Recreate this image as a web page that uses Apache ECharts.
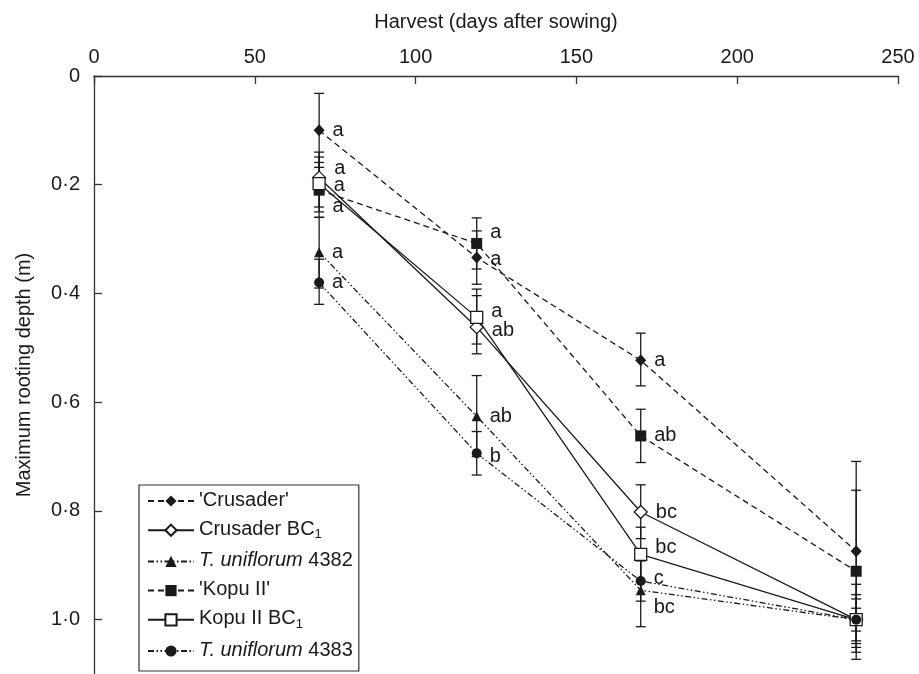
<!DOCTYPE html>
<html>
<head>
<meta charset="utf-8">
<script src="https://cdn.jsdelivr.net/npm/echarts@6/dist/echarts.min.js"></script>
<style>html,body{margin:0;padding:0;background:#fff}#c{width:919px;height:674px}</style>
</head>
<body>
<div id="c"></div>
<script>
// ---- data ----
const days = [70, 119, 170, 237];
const xTicks = [0, 50, 100, 150, 200, 250];
const yTicks = [0, 0.2, 0.4, 0.6, 0.8, 1.0];

const crusader      = [0.100, 0.334, 0.523, 0.874];
const crusaderLow   = [0.032, 0.285, 0.473, 0.709];
const crusaderHigh  = [0.168, 0.383, 0.570, 1.039];
const crusaderLetters = ['a', 'a', 'a', ''];

const crusaderBC1      = [0.187, 0.462, 0.802, 1.000];
const crusaderBC1Low   = [0.140, 0.404, 0.752, 0.935];
const crusaderBC1High  = [0.241, 0.511, 0.851, 1.073];
const crusaderBC1Letters = ['a', 'ab', 'bc', ''];

const uni4382      = [0.324, 0.626, 0.946, 1.000];
const uni4382Low   = [0.260, 0.551, 0.879, 0.954];
const uni4382High  = [0.390, 0.700, 1.013, 1.051];
const uni4382Letters = ['a', 'ab', 'bc', ''];

const kopu      = [0.210, 0.308, 0.662, 0.911];
const kopuLow   = [0.159, 0.261, 0.613, 0.762];
const kopuHigh  = [0.260, 0.355, 0.711, 1.060];
const kopuLetters = ['a', 'a', 'ab', ''];

const kopuBC1      = [0.198, 0.444, 0.880, 1.000];
const kopuBC1Low   = [0.149, 0.392, 0.830, 0.962];
const kopuBC1High  = [0.250, 0.493, 0.930, 1.044];
const kopuBC1Letters = ['a', 'a', 'bc', ''];

const uni4383      = [0.380, 0.694, 0.929, 1.000];
const uni4383Low   = [0.337, 0.654, 0.892, 0.979];
const uni4383High  = [0.420, 0.734, 0.966, 1.021];
const uni4383Letters = ['a', 'b', 'c', ''];

// ---- styles ----
const INK = '#1a1a1a';
const FONT = 'Liberation Sans, Arial, sans-serif';
const DASH = [6, 4];
const DASHDOT = [6, 2.5, 1.5, 2.5, 1.5, 2.5];

const seriesDefs = [
  {name: "'Crusader'", vals: crusader, lo: crusaderLow, hi: crusaderHigh, letters: crusaderLetters,
   symbol: 'diamond', size: [11, 12], fill: INK, dash: DASH, dy: [0, 2, 0, 0]},
  {name: 'Crusader BC1', vals: crusaderBC1, lo: crusaderBC1Low, hi: crusaderBC1High, letters: crusaderBC1Letters,
   symbol: 'diamond', size: [13, 13], fill: '#fff', dash: 'solid', dy: [-9, 3, 0, 0]},
  {name: 'T. uniflorum 4382', vals: uni4382, lo: uni4382Low, hi: uni4382High, letters: uni4382Letters,
   symbol: 'triangle', size: [10, 10], fill: INK, dash: DASHDOT, dy: [0, 0, 17, 0]},
  {name: "'Kopu II'", vals: kopu, lo: kopuLow, hi: kopuHigh, letters: kopuLetters,
   symbol: 'rect', size: [11, 11], fill: INK, dash: DASH, dy: [16, -11, 0, 0]},
  {name: 'Kopu II BC1', vals: kopuBC1, lo: kopuBC1Low, hi: kopuBC1High, letters: kopuBC1Letters,
   symbol: 'rect', size: [12, 12], fill: '#fff', dash: 'solid', dy: [2, -6, -7, 0]},
  {name: 'T. uniflorum 4383', vals: uni4383, lo: uni4383Low, hi: uni4383High, letters: uni4383Letters,
   symbol: 'circle', size: [10, 10], fill: INK, dash: DASHDOT, dy: [0, 3, -3, 0]}
];

const legendText = {
  "'Crusader'": "{n|'Crusader'}",
  'Crusader BC1': '{n|Crusader BC}{s|1}',
  'T. uniflorum 4382': '{i|T. uniflorum}{n| 4382}',
  "'Kopu II'": "{n|'Kopu II'}",
  'Kopu II BC1': '{n|Kopu II BC}{s|1}',
  'T. uniflorum 4383': '{i|T. uniflorum}{n| 4383}'
};

function fmtDepth(v) {
  if (!yTicks.some(t => Math.abs(t - v) < 1e-6)) return '';
  if (Math.abs(v) < 1e-9) return '0';
  return v.toFixed(1).replace('.', '\u00b7');
}

const series = [];
// error bars
const errData = [];
seriesDefs.forEach(s => days.forEach((d, i) => errData.push([d, s.lo[i], s.hi[i]])));
series.push({
  type: 'custom', name: 'err', z: 1, silent: true,
  data: errData,
  encode: {x: 0, y: [1, 2]},
  renderItem: function (params, api) {
    const x = api.value(0);
    const p1 = api.coord([x, api.value(1)]);
    const p2 = api.coord([x, api.value(2)]);
    const hw = 5;
    const st = {stroke: INK, lineWidth: 1.3};
    return {type: 'group', children: [
      {type: 'line', shape: {x1: p1[0], y1: p1[1], x2: p2[0], y2: p2[1]}, style: st},
      {type: 'line', shape: {x1: p1[0] - hw, y1: p1[1], x2: p1[0] + hw, y2: p1[1]}, style: st},
      {type: 'line', shape: {x1: p2[0] - hw, y1: p2[1], x2: p2[0] + hw, y2: p2[1]}, style: st}
    ]};
  }
});

seriesDefs.forEach((s, k) => {
  series.push({
    type: 'line', name: s.name, z: 3 + k,
    symbol: s.symbol, symbolSize: s.size, showAllSymbol: true,
    lineStyle: {color: INK, width: 1.3, type: s.dash},
    itemStyle: {color: s.fill, borderColor: INK, borderWidth: s.fill === '#fff' ? 1.3 : 0},
    emphasis: {disabled: true},
    data: days.map((d, i) => ({
      value: [d, s.vals[i]],
      label: {
        show: !!s.letters[i], formatter: s.letters[i], position: 'right', distance: 8,
        offset: [0, s.dy[i]], color: INK, fontSize: 20, fontFamily: FONT
      }
    }))
  });
});

const chart = echarts.init(document.getElementById('c'), null, {renderer: 'canvas'});
chart.setOption({
  animation: false,
  backgroundColor: '#fff',
  grid: {left: 94, top: 76, width: 804, height: 600.6, containLabel: false},
  xAxis: {
    type: 'value', position: 'top', min: 0, max: 250, interval: 50,
    name: 'Harvest (days after sowing)', nameLocation: 'middle', nameGap: 44,
    nameTextStyle: {color: INK, fontSize: 20, fontFamily: FONT},
    axisLine: {show: true, lineStyle: {color: '#333', width: 1.3}},
    axisTick: {show: true, inside: true, length: 8, lineStyle: {color: '#333', width: 1.3}},
    axisLabel: {color: INK, fontSize: 20, fontFamily: FONT, margin: 9,
      formatter: v => xTicks.includes(v) ? String(v) : ''},
    splitLine: {show: false}
  },
  yAxis: {
    type: 'value', inverse: true, min: 0, max: 1.1, interval: 0.2,
    name: 'Maximum rooting depth (m)', nameLocation: 'middle', nameGap: 60,
    nameTextStyle: {color: INK, fontSize: 20, fontFamily: FONT},
    axisLine: {show: true, lineStyle: {color: '#333', width: 1.3}},
    axisTick: {show: true, inside: true, length: 8, lineStyle: {color: '#333', width: 1.3}},
    axisLabel: {color: INK, fontSize: 20, fontFamily: FONT, margin: 14, formatter: fmtDepth,
      showMaxLabel: false},
    splitLine: {show: false}
  },
  legend: {
    data: seriesDefs.map(s => s.name),
    orient: 'vertical', left: 139, top: 485,
    padding: [5, 6, 11, 8], itemGap: 9.2, itemWidth: 46, itemHeight: 14,
    borderColor: '#333', borderWidth: 1.2, backgroundColor: '#fff',
    selectedMode: false,
    formatter: name => legendText[name],
    textStyle: {
      color: INK, fontSize: 20, fontFamily: FONT,
      rich: {
        n: {fontSize: 20, fontFamily: FONT, color: INK, lineHeight: 22, verticalAlign: 'top'},
        i: {fontSize: 20, fontFamily: FONT, color: INK, fontStyle: 'italic', lineHeight: 22, verticalAlign: 'top'},
        s: {fontSize: 13, fontFamily: FONT, color: INK, lineHeight: 12, verticalAlign: 'bottom'}
      }
    }
  },
  series: series
});
</script>
</body>
</html>
